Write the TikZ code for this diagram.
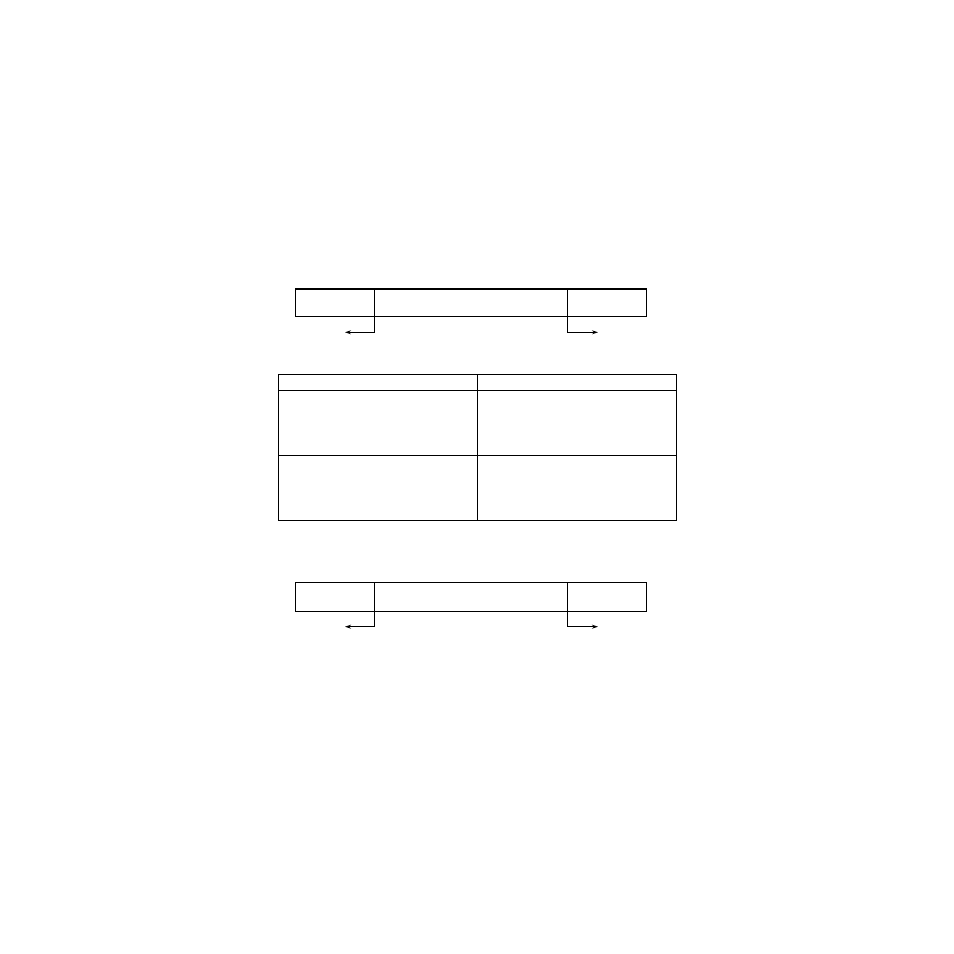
\documentclass[tikz,border=0pt]{standalone}
\usetikzlibrary{arrows.meta}
\begin{document}
\begin{tikzpicture}[x=1pt,y=-1pt,
  cell/.style={draw=black,line width=1pt,inner sep=0pt,outer sep=0pt,anchor=north west},
  conn/.style={draw=black,line width=1pt,-{Stealth[length=6pt,width=4pt]}}]
\useasboundingbox (0,0) rectangle (954,954);
% top bar
\node[cell,minimum width=79pt,minimum height=28pt] (a1) at (295,288.5) {};
\node[cell,minimum width=193pt,minimum height=28pt] (a2) at (374,288.5) {};
\node[cell,minimum width=79.5pt,minimum height=28pt] (a3) at (567,288.5) {};
\draw[line width=2pt] (a1.north west) -- (a3.north east);
\coordinate (al) at (345,332.3);
\coordinate (ar) at (598,332.3);
\draw[conn] (a1.south east) |- (al);
\draw[conn] (a3.south west) |- (ar);
% table
\node[cell,minimum width=199pt,minimum height=15.7pt] (h1) at (278.3,374.3) {};
\node[cell,minimum width=199.4pt,minimum height=15.7pt] (h2) at (477.3,374.3) {};
\node[cell,minimum width=199pt,minimum height=65.7pt] (r1) at (278.3,390) {};
\node[cell,minimum width=199.4pt,minimum height=65.7pt] (r2) at (477.3,390) {};
\node[cell,minimum width=199pt,minimum height=65pt] (s1) at (278.3,455.7) {};
\node[cell,minimum width=199.4pt,minimum height=65pt] (s2) at (477.3,455.7) {};
% bottom bar
\node[cell,minimum width=79pt,minimum height=28.6pt] (b1) at (295,582.7) {};
\node[cell,minimum width=193pt,minimum height=28.6pt] (b2) at (374,582.7) {};
\node[cell,minimum width=79.5pt,minimum height=28.6pt] (b3) at (567,582.7) {};
\coordinate (bl) at (345,626.7);
\coordinate (br) at (598,626.7);
\draw[conn] (b1.south east) |- (bl);
\draw[conn] (b3.south west) |- (br);
\end{tikzpicture}
\end{document}
